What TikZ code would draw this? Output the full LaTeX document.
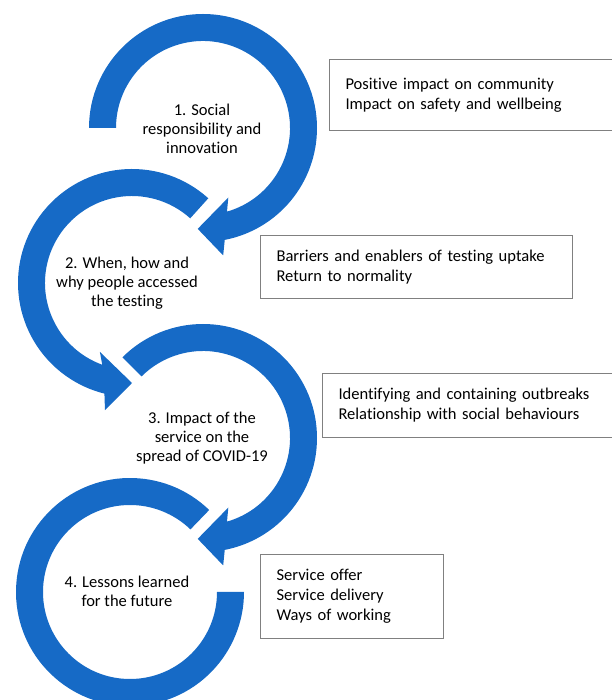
\documentclass[tikz,border=0pt]{standalone}
\usepackage{fontspec}
\setmainfont{Carlito}[Ligatures=NoCommon]
\usetikzlibrary{calc}
\definecolor{ringblue}{RGB}{22,106,198}
\definecolor{boxgray}{RGB}{128,128,128}
\begin{document}
\begin{tikzpicture}[x=1bp,y=1bp,
  ring/.style={fill=ringblue},
  steplabel/.style={align=center, font=\fontsize{16.6}{19}\selectfont, inner sep=0pt},
  infobox/.style={draw=boxgray, line width=1bp, anchor=north west, align=left,
    font=\fontsize{16.6}{20}\selectfont, inner xsep=16bp, inner ysep=0pt},
]
\useasboundingbox (0,0) rectangle (612,700);
\begin{scope}
\clip (0,0) rectangle (612,700);

% centres of the four circular arrows
\coordinate (c1) at (203,572);
\coordinate (c2) at (132,417);
\coordinate (c3) at (203,262);
\coordinate (c4) at (130,108);

% arrow 1: clockwise, from the left side round to the bottom
\fill[ring] ($(c1)+(180:114)$) arc[start angle=180,end angle=-79,radius=114]
  -- ($(c1)+(-81:129)$) -- ($(c1)+(-93:101)$) -- ($(c1)+(-70:74)$)
  -- ($(c1)+(-74:87)$) arc[start angle=-74,end angle=180,radius=87] -- cycle;

% arrow 2: counter-clockwise, from upper right round to the bottom
\fill[ring] ($(c2)+(48:114)$) arc[start angle=48,end angle=256,radius=114]
  -- ($(c2)+(258:130)$) -- ($(c2)+(270:100)$) -- ($(c2)+(245:76)$)
  -- ($(c2)+(250:87)$) arc[start angle=250,end angle=48,radius=87] -- cycle;

% arrow 3: clockwise, from upper left round to the bottom
\fill[ring] ($(c3)+(135:114)$) arc[start angle=135,end angle=-79,radius=114]
  -- ($(c3)+(-81:129)$) -- ($(c3)+(-93:101)$) -- ($(c3)+(-70:74)$)
  -- ($(c3)+(-74:87)$) arc[start angle=-74,end angle=135,radius=87] -- cycle;

% ring 4: open ring without a head
\fill[ring] ($(c4)+(46:114)$) arc[start angle=46,end angle=360,radius=114]
  -- ($(c4)+(0:87)$) arc[start angle=360,end angle=46,radius=87] -- cycle;

% step labels
\node[steplabel] (l1) at ($(c1)+(-1,-1)$) {1. Social\\responsibility and\\innovation};
\node[steplabel] (l2) at ($(c2)+(-5,0)$) {2. When, how and\\why people accessed\\the testing};
\node[steplabel] (l3) at ($(c3)+(-1,0)$) {3. Impact of the\\service on the\\spread of COVID-19};
\node[steplabel] (l4) at ($(c4)+(-3,1)$) {4. Lessons learned\\for the future};

% detail boxes
\node[infobox, minimum width=291, minimum height=71, text width=259] (b1) at (329,641)
  {Positive impact on community\\Impact on safety and wellbeing};
\node[infobox, minimum width=313, minimum height=63, text width=281] (b2) at (260,465)
  {Barriers and enablers of testing uptake\\Return to normality};
\node[infobox, minimum width=300, minimum height=64, text width=268] (b3) at (322,327)
  {Identifying and containing outbreaks\\Relationship with social behaviours};
\node[infobox, minimum width=184, minimum height=84, text width=152] (b4) at (260,146)
  {Service offer\\Service delivery\\Ways of working};
\end{scope}
\end{tikzpicture}
\end{document}
